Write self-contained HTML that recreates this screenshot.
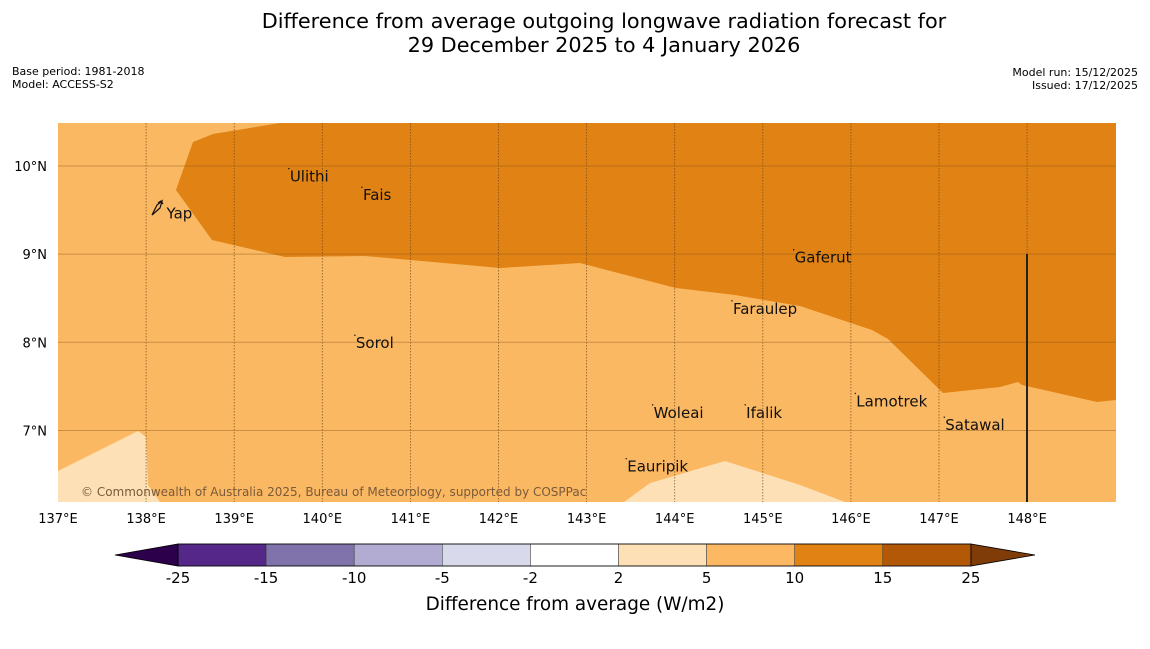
<!DOCTYPE html>
<html><head><meta charset="utf-8"><style>
body{margin:0;background:#fff;width:1150px;height:644px;overflow:hidden;font-family:"Liberation Sans","DejaVu Sans",sans-serif}
</style></head><body>
<svg width="1150" height="644" font-family="DejaVu Sans, Liberation Sans, sans-serif">
<text x="604" y="28" text-anchor="middle" font-size="20.8">Difference from average outgoing longwave radiation forecast for</text>
<text x="604" y="52" text-anchor="middle" font-size="20.8">29 December 2025 to 4 January 2026</text>
<text x="12" y="75" font-size="11">Base period: 1981-2018</text>
<text x="12" y="88" font-size="11">Model: ACCESS-S2</text>
<text x="1138" y="76" font-size="11" text-anchor="end">Model run: 15/12/2025</text>
<text x="1138" y="89" font-size="11" text-anchor="end">Issued: 17/12/2025</text>
<g id="map">
<rect x="58" y="123" width="1058" height="379" fill="#fbb862"/>
<polygon fill="#e08214" points="193,142 213,134 280,123 1116,123 1116,400 1097,402 1022,385 1018,382 1000,387 943,393 888,339 872,330 800,306 735,295 676,288 580,263 500,268 365,256 285,257 212,240 176,190"/>
<polygon fill="#fde0b6" points="58,471 138,431 146,437 148,485 160,502 58,502"/>
<polygon fill="#fde0b6" points="624,502 650,483 725,461 800,485 845,502"/>
<g id="grid"></g>
<line x1="1027" y1="254" x2="1027" y2="502" stroke="#222" stroke-width="2"/>
<path d="M152,215 L157,205 L162,201 L160,208 Z M158,203 l3,-2 l2,3" fill="none" stroke="#111" stroke-width="1.2"/>
<g id="places" font-size="15" fill="#111"></g>
<text x="81" y="496" font-size="12" fill="#7a5a3a">© Commonwealth of Australia 2025, Bureau of Meteorology, supported by COSPPac</text>
</g>
<g id="axes" font-size="13"></g>
<g id="colorbar"></g>
<text x="575" y="610" text-anchor="middle" font-size="18.4">Difference from average (W/m2)</text>
</svg>
<script>
const lonTicks=[137,138,139,140,141,142,143,144,145,146,147,148];
const latTicks=[10,9,8,7];
const placeNames=["Yap","Ulithi","Fais","Gaferut","Faraulep","Sorol","Lamotrek","Woleai","Ifalik","Satawal","Eauripik"];
const placeLon=[138.22,139.62,140.45,145.35,144.65,140.37,146.05,143.75,144.8,147.06,143.45];
const placeLat=[9.55,9.97,9.76,9.05,8.47,8.08,7.42,7.29,7.29,7.15,6.68];
const cbBounds=[-25,-15,-10,-5,-2,2,5,10,15,25];
const cbColors=["#542788","#8073ac","#b2abd2","#d8daeb","#ffffff","#fee0b6","#fdb863","#e08214","#b35806"];
const cbUnder="#2d004b", cbOver="#7f3b08";
const NS="http://www.w3.org/2000/svg";
const X=lon=>58+(lon-137)*88.1;
const Y=lat=>166+(10-lat)*88.15;
function mk(t,a,p){const e=document.createElementNS(NS,t);for(const k in a)e.setAttribute(k,a[k]);p.appendChild(e);return e;}
const grid=document.getElementById('grid'),axes=document.getElementById('axes');
lonTicks.forEach(l=>{
 if(l>137){const g=mk('line',{x1:X(l),x2:X(l),y1:123,y2:502,stroke:'#6b4310','stroke-width':0.8,'stroke-dasharray':'1.5,1.5','stroke-opacity':0.8},grid);
 
 }
 const t=mk('text',{x:X(l),y:523,'text-anchor':'middle'},axes);t.textContent=l+'°E';
 
 
});
latTicks.forEach(l=>{
 const g=mk('line',{x1:58,x2:1116,y1:Y(l),y2:Y(l),stroke:'#8b5a1a','stroke-width':1,'stroke-opacity':0.45},grid);
 
 
 const t=mk('text',{x:47,y:Y(l)+5,'text-anchor':'end'},axes);t.textContent=l+'°N';
 
 
});
const places=document.getElementById('places');
placeNames.forEach((n,i)=>{
 const x=X(placeLon[i]),y=Y(placeLat[i]);
 if(n!=="Yap"){const d=mk('circle',{cx:x,cy:y,r:0.7,fill:'#111'},places);
 
 }
 const t=mk('text',{x:x+1,y:y+13},places);t.textContent=n;
 
 
});
const cb=document.getElementById('colorbar');
const cx0=178,cw=88.1,cy=544,ch=22;
cbColors.forEach((c,i)=>{
 const r=mk('rect',{x:cx0+i*cw,y:cy,width:cw,height:ch,fill:c,stroke:'#333','stroke-width':0.5},cb);
 
 
});
const end=cx0+cbColors.length*cw;
const u=mk('polygon',{points:`${cx0},${cy} ${cx0},${cy+ch} 115,${cy+ch/2}`,fill:cbUnder,stroke:'#000','stroke-width':0.8},cb);


const o=mk('polygon',{points:`${end},${cy} ${end},${cy+ch} 1035,${cy+ch/2}`,fill:cbOver,stroke:'#000','stroke-width':0.8},cb);


const f=mk('rect',{x:cx0,y:cy,width:end-cx0,height:ch,fill:'none',stroke:'#000','stroke-width':0.8},cb);


cbBounds.forEach((b,i)=>{
 const t=mk('text',{x:cx0+i*cw,y:583,'text-anchor':'middle','font-size':15},cb);t.textContent=b;
 
 
});
</script>
</body></html>
